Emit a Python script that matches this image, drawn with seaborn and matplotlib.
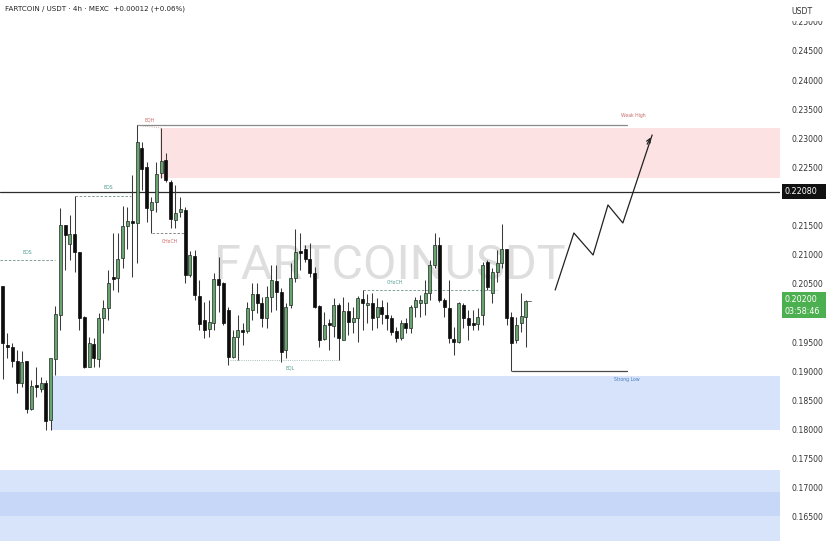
import matplotlib
matplotlib.use("Agg")
import matplotlib.pyplot as plt
from matplotlib.patches import Rectangle
import seaborn as sns
import numpy as np

# ---------------- data ----------------
opens = [0.20462, 0.19449, 0.19414, 0.19174, 0.18796, 0.19174, 0.18349, 0.18761, 0.18692, 0.18796,
         0.18160, 0.19208, 0.19964, 0.21510, 0.21184, 0.21356, 0.21046, 0.19930, 0.19071, 0.19466,
         0.19208, 0.19912, 0.20084, 0.20617, 0.20600, 0.20943, 0.21493, 0.21579, 0.21545, 0.22833,
         0.22507, 0.21768, 0.21906, 0.22404, 0.22627, 0.22249, 0.21596, 0.21734, 0.21768, 0.20651,
         0.20978, 0.20290, 0.19878, 0.19723, 0.19827, 0.20583, 0.20514, 0.20050, 0.19242, 0.19586,
         0.19706, 0.19689, 0.20050, 0.20325, 0.20170, 0.19912, 0.20273, 0.20548, 0.20359, 0.19363,
         0.20136, 0.20600, 0.21064, 0.21098, 0.20926, 0.20686, 0.20119, 0.19552, 0.19827, 0.19775,
         0.20136, 0.19534, 0.20033, 0.19844, 0.19912, 0.20239, 0.20136, 0.20170, 0.19930, 0.20101,
         0.19964, 0.19912, 0.19689, 0.19569, 0.19827, 0.19741, 0.20101, 0.20170, 0.20170, 0.20342,
         0.20823, 0.21167, 0.20222, 0.20084, 0.19552, 0.19500, 0.20136, 0.19912, 0.19827, 0.19809,
         0.19964, 0.20875, 0.20342, 0.20703, 0.20857, 0.21098, 0.19930, 0.19534, 0.19827, 0.19930]
highs = [0.20462, 0.19655, 0.19483, 0.19363, 0.19345, 0.19174, 0.18847, 0.19071, 0.18899, 0.18847,
         0.19225, 0.20119, 0.21802, 0.21510, 0.21682, 0.22009, 0.21046, 0.19947, 0.19586, 0.19569,
         0.19998, 0.20222, 0.20737, 0.21373, 0.21373, 0.21837, 0.21820, 0.22369, 0.23229, 0.22936,
         0.22593, 0.21991, 0.22593, 0.23177, 0.22747, 0.22284, 0.22198, 0.21991, 0.21820, 0.21064,
         0.21081, 0.20565, 0.20187, 0.20222, 0.20686, 0.20961, 0.20531, 0.20101, 0.19706, 0.19964,
         0.19827, 0.20187, 0.20514, 0.20514, 0.20273, 0.20462, 0.20823, 0.20823, 0.20428, 0.20170,
         0.20857, 0.21442, 0.21373, 0.21167, 0.21201, 0.20789, 0.20136, 0.20016, 0.19895, 0.20256,
         0.20170, 0.20273, 0.20187, 0.20101, 0.20290, 0.20394, 0.20325, 0.20342, 0.20256, 0.20222,
         0.20187, 0.19964, 0.19758, 0.19878, 0.19912, 0.20136, 0.20273, 0.20308, 0.20565, 0.20909,
         0.21373, 0.21304, 0.20256, 0.20565, 0.19758, 0.20187, 0.20170, 0.20050, 0.20050, 0.20084,
         0.20875, 0.20909, 0.20772, 0.21081, 0.21528, 0.21098, 0.20016, 0.19930, 0.20342, 0.20222]
lows = [0.18864, 0.19225, 0.19071, 0.18624, 0.18727, 0.18280, 0.18332, 0.18555, 0.18641, 0.17988,
        0.17988, 0.18933, 0.19706, 0.20737, 0.20909, 0.20703, 0.19706, 0.19053, 0.19071, 0.19071,
        0.19071, 0.19655, 0.19878, 0.20394, 0.20359, 0.20772, 0.21098, 0.20617, 0.20857, 0.22112,
        0.21562, 0.21373, 0.21734, 0.22318, 0.22249, 0.21459, 0.21459, 0.21648, 0.20514, 0.20617,
        0.20222, 0.19706, 0.19569, 0.19586, 0.19706, 0.20016, 0.19792, 0.19105, 0.19225, 0.19191,
        0.19449, 0.19655, 0.19878, 0.19998, 0.19758, 0.19741, 0.20016, 0.20050, 0.19156, 0.19225,
        0.20084, 0.20531, 0.20737, 0.20875, 0.20617, 0.20084, 0.19414, 0.19534, 0.19363, 0.19586,
        0.19191, 0.19534, 0.19620, 0.19655, 0.19500, 0.19706, 0.19827, 0.19706, 0.19741, 0.19809,
        0.19706, 0.19620, 0.19500, 0.19534, 0.19655, 0.19655, 0.19930, 0.19930, 0.19964, 0.20222,
        0.20772, 0.20187, 0.19930, 0.19483, 0.19277, 0.19483, 0.19741, 0.19534, 0.19706, 0.19706,
        0.19792, 0.20394, 0.20170, 0.20531, 0.20772, 0.19792, 0.19002, 0.19483, 0.19672, 0.19414]
closes = [0.19483, 0.19414, 0.19174, 0.18796, 0.19156, 0.18349, 0.18744, 0.18727, 0.18796, 0.18143,
          0.19225, 0.19981, 0.21510, 0.21339, 0.21356, 0.21046, 0.19912, 0.19071, 0.19483, 0.19225,
          0.19912, 0.20084, 0.20514, 0.20583, 0.20926, 0.21493, 0.21579, 0.21545, 0.22936, 0.22473,
          0.21802, 0.21906, 0.22387, 0.22610, 0.22284, 0.21613, 0.21717, 0.21785, 0.20651, 0.20995,
          0.20308, 0.19809, 0.19706, 0.19844, 0.20583, 0.20479, 0.19827, 0.19242, 0.19586, 0.19706,
          0.19672, 0.20084, 0.20325, 0.20170, 0.19912, 0.20273, 0.20565, 0.20359, 0.19328, 0.20101,
          0.20600, 0.21046, 0.21029, 0.20926, 0.20686, 0.20101, 0.19534, 0.19792, 0.19792, 0.20136,
          0.19569, 0.20033, 0.19844, 0.19912, 0.20256, 0.20170, 0.20170, 0.19912, 0.20101, 0.19981,
          0.19912, 0.19672, 0.19569, 0.19827, 0.19741, 0.20101, 0.20222, 0.20222, 0.20342, 0.20823,
          0.21167, 0.20222, 0.20101, 0.19569, 0.19500, 0.20170, 0.19912, 0.19792, 0.19792, 0.19930,
          0.20823, 0.20445, 0.20703, 0.20857, 0.21098, 0.19912, 0.19483, 0.19792, 0.19947, 0.20205]

# axis ticks visible in the reference (0.200 and 0.220 are hidden behind the price tags)
price_ticks = [0.165, 0.170, 0.175, 0.180, 0.185, 0.190, 0.195, 0.205, 0.210,
               0.215, 0.225, 0.230, 0.235, 0.240, 0.245, 0.250]
title_text = "FARTCOIN / USDT · 4h · MEXC  +0.00012 (+0.06%)"
level_price = 0.22080
last_price = 0.20200
countdown = "03:58:46"

# zones (price ranges) and structure levels
supply_zone = (0.22318, 0.23177)
demand_zone = (0.17988, 0.18916)
lower_zone_a = (0.16510, 0.17301)
lower_zone_b = (0.15900, 0.16923)
weak_high = 0.23229
strong_low = 0.19002
bos_levels = [0.22009, 0.20909]
choch_red = 0.21373
choch_green = 0.20394
eql_level = 0.19191
proj_x = [115.1, 119.0, 123.0, 126.1, 129.2, 135.3]
proj_y = [0.20394, 0.21373, 0.20995, 0.21854, 0.21545, 0.23057]

# ---------------- drawing ----------------
sns.set_style("white")
plt.rcParams['font.family'] = ['DejaVu Sans']

W, H = 829, 541
fig = plt.figure(figsize=(W / 100, H / 100), dpi=100)
ax = fig.add_axes([0, 0, 780 / W, 1])
for s in ax.spines.values():
    s.set_visible(False)

n = len(opens)
idx = np.arange(n)
xmin, xmax = -0.5625, 161.94
ax.set_xlim(xmin, xmax)
ax.set_ylim(0.16081, 0.25376)

# zones
ax.add_patch(Rectangle((32.8, supply_zone[0]), xmax - 32.8, supply_zone[1] - supply_zone[0],
                       facecolor="#fce2e2", edgecolor="none", zorder=0))
ax.add_patch(Rectangle((10.3, demand_zone[0]), xmax - 10.3, demand_zone[1] - demand_zone[0],
                       facecolor="#d6e3fa", edgecolor="none", zorder=0))
ax.add_patch(Rectangle((xmin, lower_zone_a[0]), xmax - xmin, lower_zone_a[1] - lower_zone_a[0],
                       facecolor="#b8cef7", edgecolor="none", alpha=0.55, zorder=0))
ax.add_patch(Rectangle((xmin, lower_zone_b[0]), xmax - xmin, lower_zone_b[1] - lower_zone_b[0],
                       facecolor="#b8cef7", edgecolor="none", alpha=0.55, zorder=0))

# key horizontal level
ax.axhline(level_price, color="#2b2b2b", lw=0.9, zorder=1)

# structure lines
ax.plot([28, 130.1], [weak_high, weak_high], color="#8a8a8a", lw=0.9, zorder=1)
ax.plot([28.3, 33], [weak_high - 0.0001, supply_zone[1]], color="#c9a0a0", lw=0.6, ls=":", zorder=1)
ax.text(30.7, 0.23315, "EQH", fontsize=3.3, color="#c76b6b", ha="center", va="center")
ax.text(131.3, 0.23383, "Weak High", fontsize=3.3, color="#c76b6b", ha="center", va="center")

teal = "#4d9a90"
ax.plot([15.1, 26.7], [bos_levels[0]] * 2, color="#6f8f8b", lw=0.6, ls=(0, (3, 2)), zorder=1)
ax.text(21.9, 0.22163, "BOS", fontsize=3.3, color=teal, ha="center", va="center")
ax.plot([xmin, 10.9], [bos_levels[1]] * 2, color="#6f8f8b", lw=0.6, ls=(0, (3, 2)), zorder=1)
ax.text(5.1, 0.21046, "BOS", fontsize=3.3, color=teal, ha="center", va="center")

ax.plot([31.1, 37.8], [choch_red] * 2, color="#777777", lw=0.6, ls=(0, (3, 2)), zorder=1)
ax.text(34.9, 0.21235, "CHoCH", fontsize=3.3, color="#d06060", ha="center", va="center")
ax.plot([75.1, 103.0], [choch_green] * 2, color="#6f8f8b", lw=0.6, ls=(0, (3, 2)), zorder=1)
ax.text(81.7, 0.20530, "CHoCH", fontsize=3.3, color=teal, ha="center", va="center", zorder=5)

ax.plot([47.4, 70.3], [eql_level] * 2, color="#8aa8a4", lw=0.6, ls=":", zorder=1)
ax.text(59.9, 0.19053, "EQL", fontsize=3.3, color=teal, ha="center", va="center")

ax.plot([106.1, 130.1], [strong_low] * 2, color="#4a4a4a", lw=0.9, zorder=1)
ax.text(130.1, 0.18864, "Strong Low", fontsize=3.3, color="#4a7fc1", ha="center", va="center")

# watermark
ax.text(80.6, 0.2080, "FARTCOINUSDT", fontsize=35, color="#dedede", ha="center", va="center",
        family="Roboto", zorder=1)

# candles
o = np.array(opens); c = np.array(closes); h = np.array(highs); l = np.array(lows)
up = c >= o
ax.vlines(idx, l, h, color="#3a3a3a", lw=0.75, zorder=2)
bottoms = np.minimum(o, c)
heights = np.maximum(np.abs(c - o), 0.00008)
ax.bar(idx[up], heights[up], bottom=bottoms[up], width=0.62, color="#68a472",
       edgecolor="#1f2a20", linewidth=0.5, zorder=3)
ax.bar(idx[~up], heights[~up], bottom=bottoms[~up], width=0.62, color="#0d0d0d",
       edgecolor="#0d0d0d", linewidth=0.5, zorder=3)
ax.plot([n - 1 + 0.3, n - 1 + 1.0], [last_price] * 2, color="#555555", lw=0.6, zorder=3)

# projected path
sns.lineplot(x=proj_x, y=proj_y, sort=False, color="#222222", lw=0.9, ax=ax, zorder=4)
ax.annotate("", xy=(proj_x[-1], proj_y[-1]), xytext=(proj_x[-2] + 4.8, proj_y[-1] - 0.0020),
            arrowprops=dict(arrowstyle="->", color="#222222", lw=0.9, mutation_scale=7), zorder=4)

# right price axis
ax.yaxis.tick_right()
ax.set_yticks(price_ticks)
ax.set_yticklabels([f"{t:.5f}" for t in price_ticks])
ax.tick_params(axis="y", length=0, pad=8, labelsize=5.6, labelcolor="#333333")
ax.set_xticks([])


def fig_box(x0, y0, x1, y1, color):
    fig.add_artist(Rectangle((x0 / W, 1 - y1 / H), (x1 - x0) / W, (y1 - y0) / H,
                             transform=fig.transFigure, facecolor=color, edgecolor="none",
                             zorder=20))


# price tags
fig_box(782, 184, 826, 199, "#111111")
fig.text(785 / W, 1 - 191.5 / H, f"{level_price:.5f}", fontsize=5.8, color="white",
         va="center", ha="left", zorder=21)
fig_box(782, 292, 826, 318, "#4caf50")
fig.text(785 / W, 1 - 299.5 / H, f"{last_price:.5f}", fontsize=5.8, color="white",
         va="center", ha="left", zorder=21)
fig.text(785 / W, 1 - 311 / H, countdown, fontsize=5.8, color="white",
         va="center", ha="left", zorder=21)

# header cover on right axis
fig_box(780, 0, 829, 21, "white")
fig.text(791 / W, 1 - 11 / H, "USDT", fontsize=5.6, color="#333333", va="center", ha="left",
         zorder=21)

# title
fig.text(5 / W, 1 - 9 / H, title_text, fontsize=5.1, color="#222222", va="center", ha="left",
         zorder=21)

fig.savefig("out.png", dpi=100)
